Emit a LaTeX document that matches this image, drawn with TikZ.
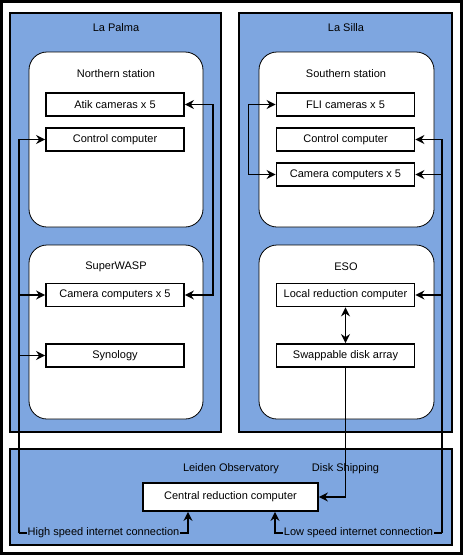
\documentclass[tikz,border=0pt]{standalone}
\usepackage{fontspec}
\setmainfont{Liberation Sans}
\usetikzlibrary{arrows.meta}
\definecolor{panelblue}{HTML}{7EA6E0}
\tikzset{
	site/.style={draw=black, fill=panelblue, line width=1.8pt},
	station/.style={draw=black, fill=white, rounded corners=18pt, line width=0.8pt},
	unit/.style={draw=black, fill=white, line width=1.8pt, minimum width=138pt, minimum height=23pt, inner sep=0pt},
	link/.style={line width=1.6pt, -{Stealth[length=9pt,width=9pt,inset=3pt]}},
	duplex/.style={line width=1.6pt, {Stealth[length=9pt,width=9pt,inset=3pt]}-{Stealth[length=9pt,width=9pt,inset=3pt]}},
	caption/.style={inner sep=1pt},
}
\begin{document}
\begin{tikzpicture}[x=1pt, y=-1pt, font=\fontsize{11}{13}\selectfont]
		\useasboundingbox (0,0) rectangle (463,555);
		\draw[line width=3pt] (1.5,1.5) rectangle (461.5,553.5);
		\draw[site] (10,13) rectangle (221,432);
		\draw[site] (239,13) rectangle (452,432);
		\draw[site] (10,449) rectangle (452,545);
		\draw[station] (29,52) rectangle (203,227);
		\draw[station] (29,245) rectangle (203,419);
		\draw[station] (259,52) rectangle (434,227);
		\draw[station] (259,245) rectangle (434,419);
		\node[caption] (lapalma) at (116,28) {La Palma};
		\node[caption] (lasilla) at (346,28) {La Silla};
		\node[caption] (northern) at (116,74) {Northern station};
		\node[caption] (southern) at (346,74) {Southern station};
		\node[caption] (superwasp) at (116,267) {SuperWASP};
		\node[caption] (eso) at (346,267) {ESO};
		\node[caption] (leiden) at (231,469) {Leiden Observatory};
		\node[unit] (atik) at (115,104.5) {Atik cameras x 5};
		\node[unit] (ctrlN) at (115,139.5) {Control computer};
		\node[unit] (camN) at (115,295) {Camera computers x 5};
		\node[unit] (synology) at (115,355.5) {Synology};
		\node[unit] (fli) at (345.5,104.5) {FLI cameras x 5};
		\node[unit] (ctrlS) at (345.5,139.5) {Control computer};
		\node[unit] (camS) at (345.5,174.5) {Camera computers x 5};
		\node[unit] (localred) at (345.5,295) {Local reduction computer};
		\node[unit] (disks) at (345.5,355.5) {Swappable disk array};
		\node[unit, minimum width=175pt, minimum height=28pt] (central) at (230.5,497) {Central reduction computer};
		\coordinate (hsbend) at (19,533);
		\coordinate (hsfoot) at (188,533);
		\coordinate (lsbend) at (442,533);
		\coordinate (lsfoot) at (275,533);
		\draw[duplex] (atik.east) -- ++(28,0) |- (camN.east);
		\draw[duplex] (fli.west) -- ++(-27,0) |- (camS.west);
		\draw[duplex] (localred) -- (disks);
		\draw[link] (hsbend) |- (ctrlN.west);
		\draw[link] (hsbend) |- (camN.west);
		\draw[link] (hsbend) |- (synology.west);
		\draw[link] (lsbend) |- (ctrlS.east);
		\draw[link] (lsbend) |- (camS.east);
		\draw[link] (lsbend) |- (localred.east);
		\draw[link] (hsbend) -- node[caption, fill=panelblue] {High speed internet connection} (hsfoot) -- (hsfoot |- central.south);
		\draw[link] (lsbend) -- node[caption, fill=panelblue] {Low speed internet connection} (lsfoot) -- (lsfoot |- central.south);
		\draw[link] (disks.south) |- node[caption, pos=0.39] {Disk Shipping} (central.east);
		\end{tikzpicture}
\end{document}
